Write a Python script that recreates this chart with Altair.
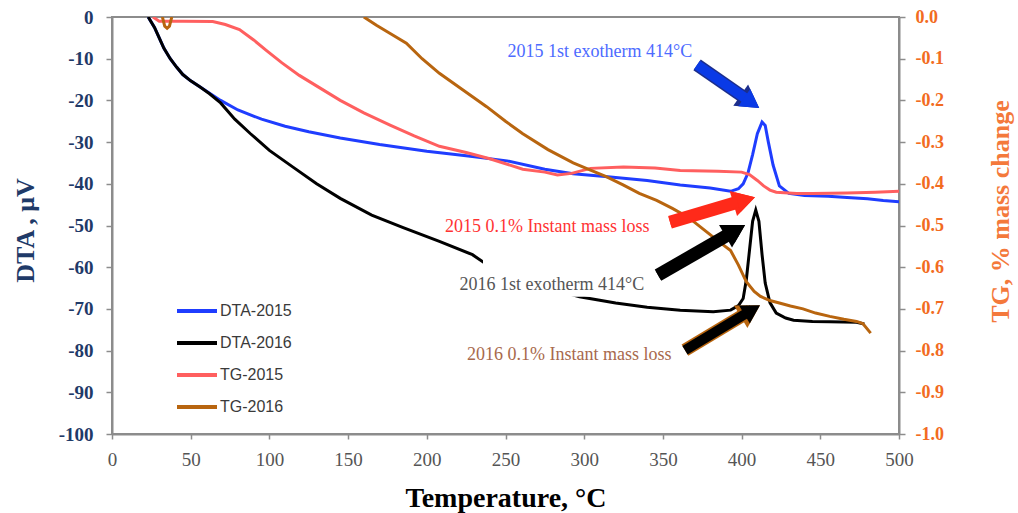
import math
import altair as alt
import pandas as pd

# ---- series names and colours -------------------------------------------
SERIES = ["DTA-2015", "DTA-2016", "TG-2015", "TG-2016"]
COLORS = ["#1f3dff", "#000000", "#ff5f5f", "#b8650f"]

# ---- DTA curves (temperature in degC, signal in microvolt) ----------------
dta2015_t = [23, 27, 30, 33, 37, 41, 45, 50, 56, 62, 69, 80, 95, 110, 125,
             145, 170, 200, 225, 251, 275, 293, 315, 340, 361, 380, 393, 398,
             401, 404, 407, 410, 413, 415, 417, 420, 424, 430, 440, 455, 467,
             480, 490, 500]
dta2015_v = [0, -2.5, -5, -7.5, -10, -12, -13.8, -15.3, -16.8, -18.3, -20,
             -22.3, -24.5, -26.2, -27.5, -29, -30.6, -32.2, -33.3, -34.5,
             -36.5, -37.6, -38.3, -39.2, -40.3, -41, -41.8, -41.2, -40, -37.5,
             -33, -28, -25.2, -26, -30, -35.5, -40.5, -42.3, -42.8, -43, -43.3,
             -43.6, -44, -44.3]

dta2016_t = [23, 27, 30, 33, 37, 41, 45, 50, 56, 62, 69, 78, 88, 100, 115, 130,
             145, 165, 185, 208, 229, 236, 250, 265, 280, 297, 320, 340, 361,
             382, 393, 398, 401, 403, 405, 407, 409, 411, 413, 415, 418, 422,
             428, 433, 445, 456, 473, 478]
dta2016_v = [0, -2.5, -5, -7.5, -10, -12, -13.8, -15.3, -16.8, -18.4, -20.6,
             -24.5, -28, -32, -36, -40, -43.5, -47.5, -50.5, -53.8, -57, -58.8,
             -61, -63.3, -65.3, -67.1, -68.6, -69.6, -70.3, -70.7, -70.3,
             -69.2, -67.5, -63, -56, -49, -46.3, -49, -57, -63.8, -68.5, -71,
             -72.2, -72.7, -73, -73.1, -73.2, -73.6]

# ---- TG curves (percent mass change) --------------------------------------
tg2015_t = [26, 30, 45, 64, 72, 81, 90, 98, 108, 119, 132, 145, 160, 177, 192,
            208, 225, 240, 261, 275, 283, 292, 304, 325, 345, 361, 385, 400,
            405, 410, 414, 418, 422, 435, 445, 467, 485, 500]
tg2015_v = [0, -0.01, -0.01, -0.011, -0.018, -0.03, -0.055, -0.08, -0.11, -0.14,
            -0.17, -0.2, -0.23, -0.26, -0.285, -0.31, -0.325, -0.34, -0.365,
            -0.372, -0.379, -0.375, -0.363, -0.36, -0.362, -0.368, -0.37,
            -0.372, -0.378, -0.392, -0.405, -0.415, -0.42, -0.423, -0.423,
            -0.422, -0.42, -0.418]

# short dip just after start, the rest of the early run sits above 0 %
tg2016_start_t = [32, 33.5, 35, 36.5, 38]
tg2016_start_v = [0, -0.022, -0.027, -0.022, 0]

tg2016_t = [160, 168, 177, 187, 197, 208, 223, 238, 250, 261, 277, 293, 304,
            314, 325, 335, 346, 356, 366, 376, 386, 393, 398, 403, 408, 412,
            418, 424, 431, 439, 447, 456, 465, 473, 477, 482]
tg2016_v = [0, -0.02, -0.04, -0.063, -0.1, -0.135, -0.175, -0.215, -0.25, -0.28,
            -0.318, -0.35, -0.367, -0.383, -0.403, -0.423, -0.44, -0.459, -0.48,
            -0.51, -0.54, -0.56, -0.595, -0.635, -0.658, -0.67, -0.68, -0.686,
            -0.693, -0.7, -0.71, -0.718, -0.725, -0.73, -0.735, -0.758]

# ---- annotations (positions in degC / microvolt) --------------------------
note_text = ["2015 1st exotherm 414°C", "2015 0.1% Instant mass loss",
             "2016 1st exotherm 414°C", "2016 0.1% Instant mass loss"]
note_t = [310, 276.5, 279.5, 290.5]
note_v = [-8.4, -50.4, -64.2, -81.0]
note_color = ["#4d6bff", "#ff3333", "#555555", "#a8694c"]

# arrows: tail (t, v) -> tip (t, v), fill colour, edge colour
arrow_tail_t = [371.7, 354.5, 346.9, 364.0]
arrow_tail_v = [-11.5, -49.2, -61.9, -79.9]
arrow_tip_t = [411.2, 408.5, 402.2, 411.7]
arrow_tip_v = [-21.8, -43.2, -49.9, -69.1]
arrow_fill = ["#0a3ae6", "#ff2a1a", "#000000", "#000000"]
arrow_edge = ["#1c2e8c", "#ff2a1a", "#000000", "#b8650f"]

# label backing box for the 2016 exotherm note
box_t = [235.7, 341.8]
box_v = [-57.1, -67.1]

# ---- layout ---------------------------------------------------------------
W, H = 787, 417
SX = W / 500.0    # px per degC
SY = H / 100.0    # px per microvolt
SERIF = "Liberation Serif"
SANS = "Liberation Sans"
GREY = "#8c8c8c"


def frame(series, ts, vs, seg=0):
    return pd.DataFrame({"series": series, "t": ts, "v": vs, "seg": seg})


dta_df = pd.concat([frame("DTA-2015", dta2015_t, dta2015_v),
                    frame("DTA-2016", dta2016_t, dta2016_v)])
tg_df = pd.concat([frame("TG-2015", tg2015_t, tg2015_v),
                   frame("TG-2016", tg2016_start_t, tg2016_start_v, 1),
                   frame("TG-2016", tg2016_t, tg2016_v, 2)])

x_axis = alt.Axis(
    values=list(range(0, 501, 50)), title="Temperature, °C", grid=False,
    labelFlush=False, labelOverlap=False,
    labelFont=SERIF, labelFontSize=19, labelColor="#555555",
    labelPadding=11, tickSize=5, tickColor=GREY, tickWidth=1.5,
    domainColor=GREY, domainWidth=2,
    titleFont=SERIF, titleFontSize=28, titleFontWeight="bold",
    titleColor="#000000", titleX=W / 2, titleY=72,
    titleBaseline="alphabetic", titleAlign="center",
)
x_scale = alt.Scale(domain=[0, 500], nice=False, zero=False)


def xenc(field="t"):
    return alt.X(f"{field}:Q", scale=x_scale, axis=x_axis)


left_axis = alt.Axis(
    values=list(range(0, -101, -10)), title="DTA , μV", grid=False,
    labelExpr="replace(datum.label, '−', '-')",
    labelFlush=False, labelOverlap=False,
    labelFont=SERIF, labelFontSize=19, labelFontWeight="bold",
    labelColor="#1f3a68", labelPadding=13, tickSize=6, tickColor=GREY,
    tickWidth=1.5, domainColor=GREY, domainWidth=2,
    titleFont=SERIF, titleFontSize=26, titleFontWeight="bold",
    titleColor="#1f3a68", titleAngle=270, titleX=-79, titleY=213,
    titleAlign="center", titleBaseline="alphabetic",
)
right_axis = alt.Axis(
    orient="right", values=[round(-0.1 * i, 1) for i in range(11)],
    format=".1f", title="TG, % mass change", grid=False,
    labelExpr="replace(datum.label, '−', '-')",
    labelFlush=False, labelOverlap=False,
    labelFont=SERIF, labelFontSize=18, labelFontWeight="bold",
    labelColor="#f26b21", labelPadding=10, tickSize=6, tickColor=GREY,
    tickWidth=1.5, domainColor=GREY, domainWidth=2,
    titleFont=SERIF, titleFontSize=26, titleFontWeight="bold",
    titleColor="#f4793b", titleAngle=270, titleX=109, titleY=194,
    titleAlign="center", titleBaseline="alphabetic",
)

color = alt.Color(
    "series:N",
    scale=alt.Scale(domain=SERIES, range=COLORS),
    legend=alt.Legend(
        title=None, orient="none", legendX=63, legendY=272,
        symbolType="stroke", symbolSize=1600, symbolStrokeWidth=4,
        rowPadding=2, padding=0, labelOffset=1,
        labelFont=SANS, labelFontSize=16, labelColor="#3a3a3a",
    ),
)

dta_lines = alt.Chart(dta_df).mark_line(strokeWidth=3, clip=True).encode(
    x=xenc(),
    y=alt.Y("v:Q", scale=alt.Scale(domain=[-100, 0], nice=False), axis=left_axis),
    color=color,
    detail="seg:N",
)

tg_lines = alt.Chart(tg_df).mark_line(strokeWidth=3, clip=True).encode(
    x=xenc(),
    y=alt.Y("v:Q", scale=alt.Scale(domain=[-1, 0], nice=False), axis=right_axis),
    color=color,
    detail="seg:N",
)

note_scale = alt.Scale(domain=[-100, 0], nice=False)


def ynote(field):
    return alt.Y(f"{field}:Q", scale=note_scale, axis=None)


notes = []

# white backing behind the 2016 exotherm label
box_df = pd.DataFrame({"t0": [box_t[0]], "t1": [box_t[1]],
                       "v0": [box_v[0]], "v1": [box_v[1]]})
notes.append(alt.Chart(box_df).mark_rect(color="white").encode(
    x=xenc("t0"), x2="t1", y=ynote("v0"), y2="v1"))

for txt, t, v, c in zip(note_text, note_t, note_v, note_color):
    df = pd.DataFrame({"t": [t], "v": [v], "label": [txt]})
    notes.append(alt.Chart(df).mark_text(
        font=SERIF, fontSize=18, color=c, align="center", baseline="middle"
    ).encode(x=xenc(), y=ynote("v"), text="label:N"))

for t0, v0, t1, v1, fill, edge in zip(arrow_tail_t, arrow_tail_v, arrow_tip_t,
                                      arrow_tip_v, arrow_fill, arrow_edge):
    dx = (t1 - t0) * SX
    dy = -(v1 - v0) * SY
    length = math.hypot(dx, dy)
    ux, uy = dx / length, dy / length
    ang = math.degrees(math.atan2(ux, -uy)) % 360
    for width, head, col in ((13, 676, edge), (10, 441, fill)):
        h = math.sqrt(3) / 4 * math.sqrt(head)
        hc_t = t1 - ux * h / SX
        hc_v = v1 + uy * h / SY
        body = pd.DataFrame({"t0": [t0], "v0": [v0], "t1": [hc_t], "v1": [hc_v]})
        notes.append(alt.Chart(body).mark_rule(
            color=col, strokeWidth=width, strokeCap="butt"
        ).encode(x=xenc("t0"), y=ynote("v0"), x2="t1", y2="v1"))
        tip = pd.DataFrame({"t": [hc_t], "v": [hc_v]})
        notes.append(alt.Chart(tip).mark_point(
            shape="triangle-up", filled=True, size=head, color=col,
            opacity=1, strokeWidth=0, angle=ang
        ).encode(x=xenc(), y=ynote("v")))

note_layer = alt.layer(*notes)

chart = alt.layer(dta_lines, tg_lines, note_layer).resolve_scale(
    y="independent"
).properties(
    width=W, height=H,
    autosize=alt.AutoSizeParams(type="none"),
    padding={"left": 112, "top": 17, "right": 1018 - 112 - W, "bottom": 513 - 17 - H},
    background="white",
).configure_view(stroke=GREY, strokeWidth=2)

chart.save("out.html", embed_options={"renderer": "svg", "actions": False})
